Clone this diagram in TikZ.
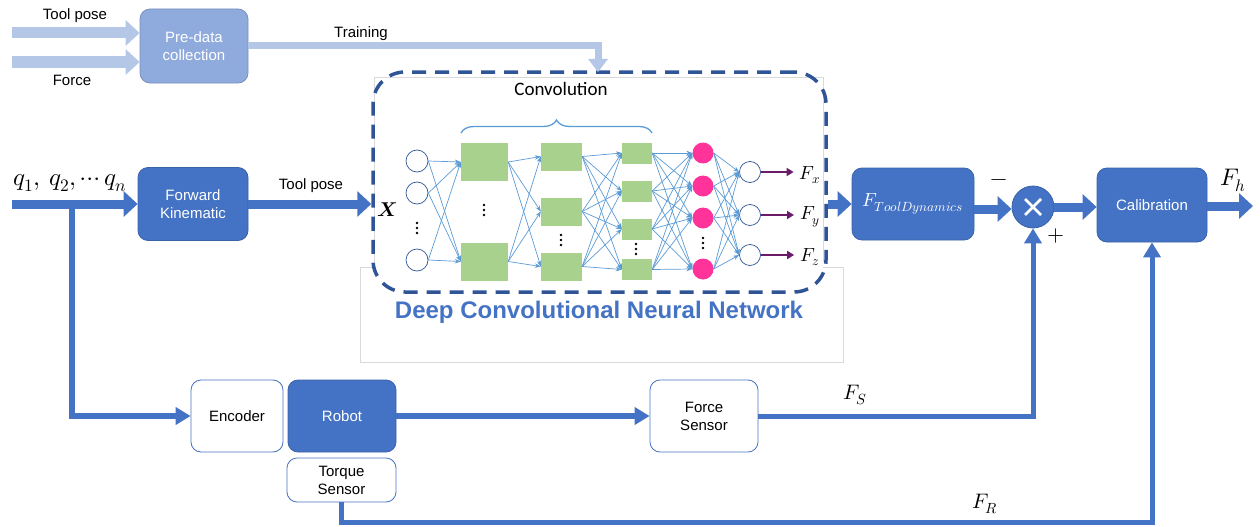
\documentclass[tikz,border=0pt]{standalone}
\usepackage{fontspec}
\usepackage{unicode-math}
\setmainfont{Liberation Sans}
\setmathfont{Latin Modern Math}
\newfontfamily\calibri{Carlito}
\usetikzlibrary{arrows.meta,decorations.pathreplacing,calc}

\definecolor{mainblue}{HTML}{4472C4}
\definecolor{lightblue}{HTML}{B4C7E7}
\definecolor{midblue}{HTML}{8FAADC}
\definecolor{darkblue}{HTML}{2F5597}
\definecolor{edgeblue}{HTML}{3A62AA}
\definecolor{netblue}{HTML}{5B9BD5}
\definecolor{leafgreen}{HTML}{A9D18E}
\definecolor{hotpink}{HTML}{FF3399}
\definecolor{plum}{HTML}{6A1B6A}
\definecolor{framegray}{HTML}{D9D9D9}

\begin{document}
\begin{tikzpicture}[x=1pt,y=-1pt,
  txt/.style={font=\fontsize{15}{17}\selectfont, inner sep=0pt},
  blk/.style={rounded corners=10pt, draw=edgeblue, line width=0.8pt, fill=mainblue,
    text=white, align=center, font=\fontsize{15}{18}\selectfont, inner sep=0pt},
  wblk/.style={blk, fill=white, text=black, draw=mainblue},
  lightarrow/.style={draw=lightblue, line width=11pt, -{Triangle[width=25pt,length=14pt]}},
  trainarrow/.style={draw=lightblue, line width=7pt, -{Triangle[width=19pt,length=13pt]}},
  mainarrow/.style={draw=mainblue, line width=9pt, -{Triangle[width=25pt,length=14pt]}},
  fbline/.style={draw=mainblue, line width=5pt},
  fbarrow/.style={fbline, -{Triangle[width=17pt,length=15pt]}},
  incirc/.style={circle, draw=darkblue, line width=0.7pt, fill=white, minimum size=22pt, inner sep=0pt},
  pinkcirc/.style={circle, fill=hotpink, minimum size=21pt, inner sep=0pt},
  greenbox/.style={fill=leafgreen, inner sep=0pt},
  netarrow/.style={draw=netblue, line width=0.7pt, -{Stealth[length=6pt,width=4.5pt]}},
  outarrow/.style={draw=plum, line width=2pt, -{Triangle[length=7pt,width=8pt]}},
  mlabel/.style={inner sep=0pt, font=\fontsize{21}{23}\selectfont},
  flabel/.style={inner sep=0pt, font=\fontsize{19}{21}\selectfont},
  threedots/.pic={\foreach \d in {-5,0,5} \fill (0,\d) circle (1.4pt);},
]
\useasboundingbox (0,0) rectangle (1260,527);

% faint frames of the network panel
\draw[framegray, line width=0.6pt] (374,262) -- (374,77) -- (823,77) -- (823,262);
\draw[framegray, line width=0.6pt] (374,267) -- (360,267) -- (360,362) -- (843,362) -- (843,267) -- (823,267);

% ---------- pre-data collection ----------
\node[blk, fill=midblue, draw=midblue!85!black, minimum width=108pt, minimum height=74pt]
  (pre) at (194,46) {Pre-data\\collection};
\coordinate (poseIn) at (12,33);
\coordinate (forceIn) at (12,62);
\draw[lightarrow] (poseIn) -- (poseIn -| pre.west);
\draw[lightarrow] (forceIn) -- (forceIn -| pre.west);
\node[txt] (poseTxt) at (75,16) {Tool pose};
\node[txt] (forceTxt) at (72,80) {Force};

% ---------- network panel ----------
\node[draw=darkblue, dash pattern=on 14pt off 9pt, line width=3.5pt, rounded corners=32pt,
  minimum width=453pt, minimum height=220pt, inner sep=0pt] (nnbox) at (599.5,182) {};
\coordinate (trainEnd) at (598,72);
\draw[trainarrow] (pre.east) -| (trainEnd);
\node[txt] (trainTxt) at (361,34) {Training};

\node[inner sep=0pt, font=\calibri\fontsize{19}{21}\selectfont] (convTxt) at (561,89) {Convolution};
\draw[decorate, decoration={brace, amplitude=13pt}, netblue, line width=1.3pt] (461,133) -- (652,133);

\node[inner sep=0pt, font=\fontsize{20}{20}\selectfont] (xin) at (387,210) {$\symbfit{X}$};

% input layer
\node[incirc] (i1) at (417,161) {};
\node[incirc] (i2) at (417,193) {};
\node[incirc] (i3) at (417,260) {};
\pic at (417,228) {threedots};
% first convolution layer
\node[greenbox, minimum width=47pt, minimum height=38pt] (a1) at (484.5,162) {};
\node[greenbox, minimum width=47pt, minimum height=38pt] (a2) at (484.5,261.5) {};
\pic at (484,210) {threedots};
% second convolution layer
\node[greenbox, minimum width=41pt, minimum height=28pt] (b1) at (561.5,156.5) {};
\node[greenbox, minimum width=41pt, minimum height=28pt] (b2) at (561.5,211.5) {};
\node[greenbox, minimum width=41pt, minimum height=28pt] (b3) at (561.5,266.5) {};
\pic at (561,240) {threedots};
% third convolution layer
\node[greenbox, minimum width=30pt, minimum height=21pt] (c1) at (637,153) {};
\node[greenbox, minimum width=30pt, minimum height=21pt] (c2) at (637,191) {};
\node[greenbox, minimum width=30pt, minimum height=21pt] (c3) at (637,229) {};
\node[greenbox, minimum width=30pt, minimum height=21pt] (c4) at (637,269.5) {};
\pic at (636,249) {threedots};
% fully connected layer
\node[pinkcirc] (p1) at (703,153) {};
\node[pinkcirc] (p2) at (703,186) {};
\node[pinkcirc] (p3) at (703,218) {};
\node[pinkcirc] (p4) at (703,269) {};
\pic at (703,243) {threedots};
% output layer
\node[incirc, minimum size=21pt] (o1) at (750,172) {};
\node[incirc, minimum size=21pt] (o2) at (750,215) {};
\node[incirc, minimum size=21pt] (o3) at (750,255) {};

\foreach \s in {i1,i2,i3} \foreach \t in {a1,a2} \draw[netarrow] (\s.east) -- (\t.west);
\foreach \s in {a1,a2} \foreach \t in {b1,b2,b3} \draw[netarrow] (\s.east) -- (\t.west);
\foreach \s in {b1,b2,b3} \foreach \t in {c1,c2,c3,c4} \draw[netarrow] (\s.east) -- (\t.west);
\foreach \s in {c1,c2,c3,c4} \foreach \t in {p1,p2,p3,p4} \draw[netarrow] (\s.east) -- (\t.west);
\foreach \s in {p1,p2,p3,p4} \foreach \t in {o1,o2,o3} \draw[netarrow] (\s.east) -- (\t.west);

\node[flabel] (fx) at (810,175) {$F_x$};
\node[flabel] (fy) at (810,217) {$F_y$};
\node[flabel] (fz) at (810,257) {$F_z$};
\draw[outarrow, shorten >=6pt] (o1.east) -- (o1.east -| fx.west);
\draw[outarrow, shorten >=6pt] (o2.east) -- (o2.east -| fy.west);
\draw[outarrow, shorten >=6pt] (o3.east) -- (o3.east -| fz.west);

\node[inner sep=0pt, font=\bfseries\fontsize{24}{26}\selectfont, text=mainblue] (nnTitle)
  at (599,312) {Deep Convolutional Neural Network};

% ---------- main row ----------
\node[blk, minimum width=110pt, minimum height=73pt] (fk) at (193,204) {Forward\\Kinematic};
\node[blk, minimum width=122pt, minimum height=72pt, font=\fontsize{19}{21}\selectfont] (ftd) at (913,204) {$F_{ToolDynamics}$};
\node[circle, draw=edgeblue, line width=0.8pt, fill=mainblue, minimum size=42pt, inner sep=0pt] (cross) at (1033,207) {};
\draw[white, line width=2.6pt] ($(cross.center)+(-8,-8)$) -- ($(cross.center)+(8,8)$);
\draw[white, line width=2.6pt] ($(cross.center)+(-8,8)$) -- ($(cross.center)+(8,-8)$);
\node[blk, minimum width=110pt, minimum height=74pt] (cal) at (1152,205) {Calibration};

\coordinate (qIn) at (12,204);
\coordinate (branch) at (72,204);
\draw[mainarrow] (qIn) -- (fk.west);
\node[inner sep=0pt, font=\fontsize{25}{27}\selectfont] (qTxt) at (70,183) {$q_1,\,q_2,\cdots q_n$};
\draw[mainarrow] (fk.east) -- (fk.east -| nnbox.west);
\node[txt] (poseTxt2) at (311,186) {Tool pose};
\draw[mainarrow] (ftd.west -| nnbox.east) -- (ftd.west);
\draw[mainarrow] (ftd.east |- 0,209) -- (cross.west |- 0,209);
\draw[mainarrow] (cross.east |- 0,207) -- (cal.west |- 0,207);
\coordinate (fhOut) at (1253,206);
\draw[mainarrow] (cal.east |- fhOut) -- (fhOut);
\node[mlabel, font=\fontsize{24}{26}\selectfont] (fhTxt) at (1233,180) {$F_h$};
\node[mlabel, font=\fontsize{22}{24}\selectfont] (minusTxt) at (999,183) {$-$};
\node[mlabel, font=\fontsize{22}{24}\selectfont] (plusTxt) at (1056,236) {$+$};

% ---------- lower row ----------
\node[wblk, minimum width=92pt, minimum height=72pt] (enc) at (237,416) {Encoder};
\node[blk, minimum width=108pt, minimum height=72pt] (rob) at (342,416) {Robot};
\node[wblk, minimum width=109pt, minimum height=44pt] (ts) at (341.5,480) {Torque\\Sensor};
\node[wblk, minimum width=108pt, minimum height=72pt] (fs) at (704,416) {Force\\Sensor};

\draw[fbarrow, line width=6pt] (branch) |- (enc.west);
\draw[fbarrow, line width=6pt] (rob.east) -- (fs.west);
\draw[fbarrow] (fs.east) -| (cross.south);
\coordinate (frCorner) at (cal.south |- 0,522);
\draw[fbarrow] (ts.south) -- (ts.south |- frCorner) -- (frCorner) -- (cal.south);
\node[mlabel] (fsTxt) at (855,395) {$F_S$};
\node[mlabel] (frTxt) at (985,504) {$F_R$};
\end{tikzpicture}
\end{document}
